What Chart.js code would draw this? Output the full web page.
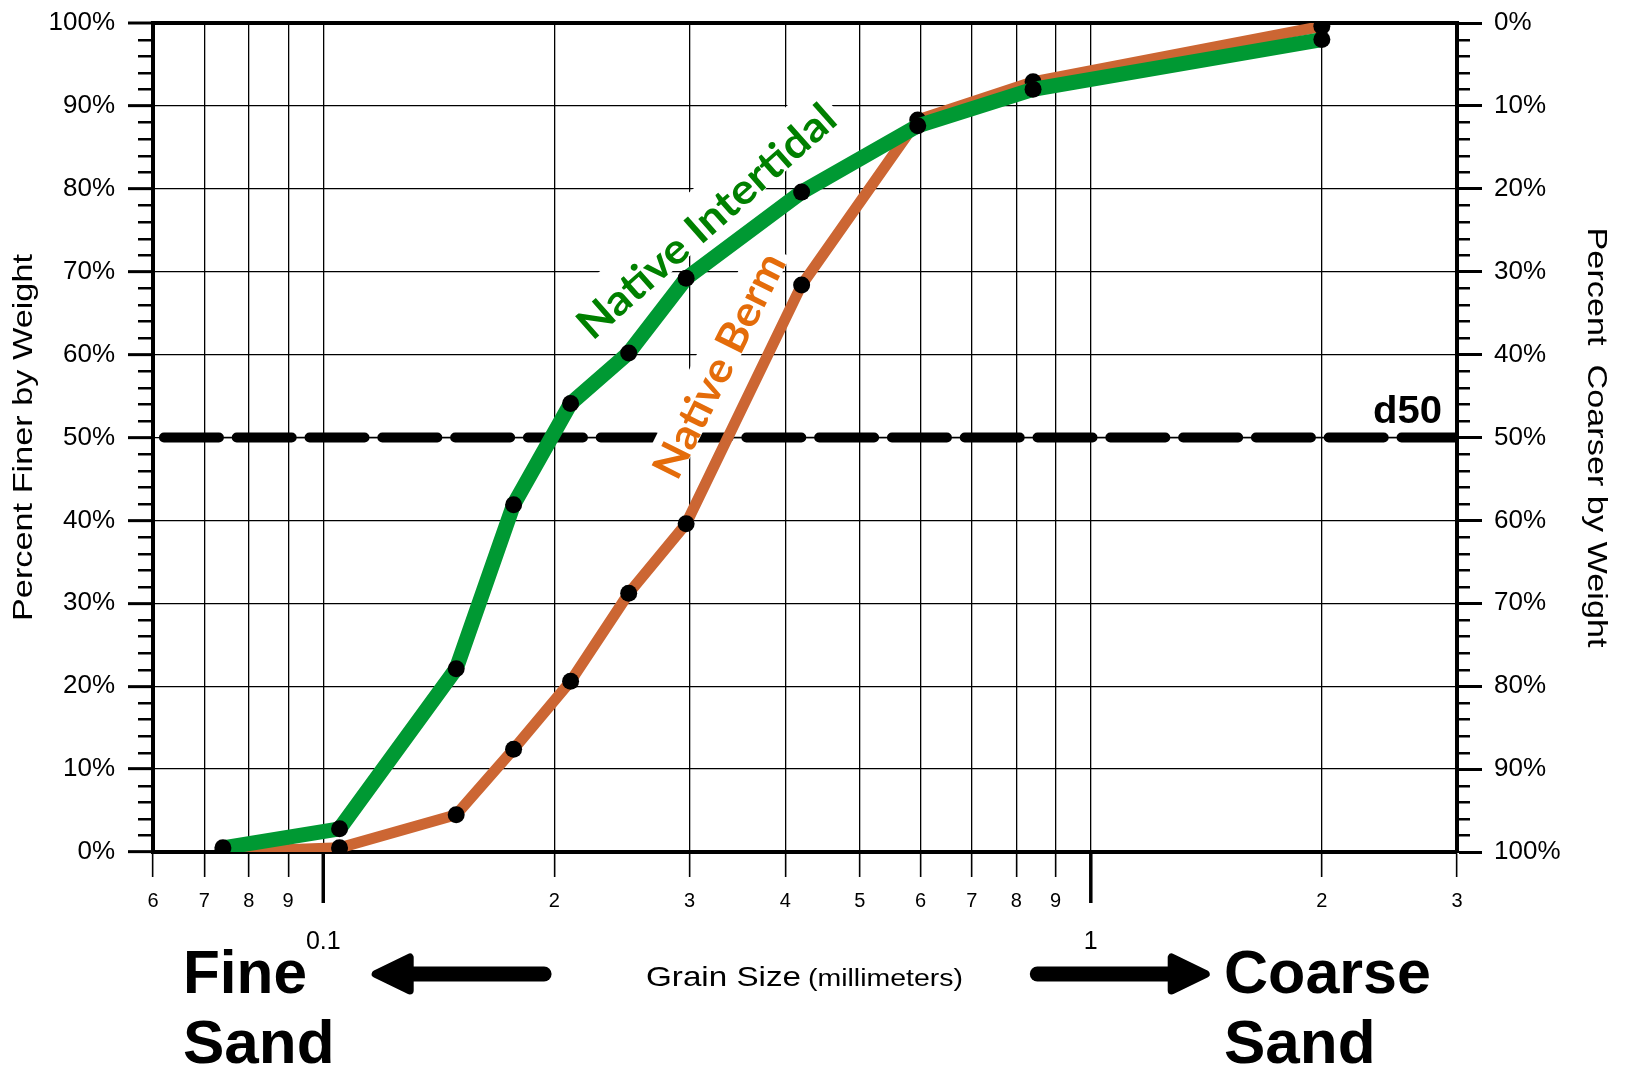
<!DOCTYPE html>
<html><head><meta charset="utf-8">
<script src="https://cdn.jsdelivr.net/npm/chart.js@4.4.0/dist/chart.umd.min.js"></script>
<style>html,body{margin:0;padding:0;background:#fff;overflow:hidden}#wrap{width:1627px;height:1078px}</style>
</head><body><div id="wrap"><canvas id="c" width="1627" height="1078"></canvas></div>
<script>
// ---- data ----
const grainSizes = [0.074, 0.105, 0.149, 0.177, 0.21, 0.25, 0.297, 0.42, 0.595, 0.841, 2.0];
const nativeIntertidal = [0.5, 2.8, 22.1, 41.9, 54.1, 60.2, 69.2, 79.6, 87.6, 92.0, 98.0];
const nativeBerm = [0.0, 0.5, 4.5, 12.4, 20.6, 31.2, 39.6, 68.4, 88.3, 92.9, 99.6];
const d50Value = 50;
const d50Range = [0.062, 3];
const xTicks = [0.06, 0.07, 0.08, 0.09, 0.1, 0.2, 0.3, 0.4, 0.5, 0.6, 0.7, 0.8, 0.9, 1, 2, 3];
const xTickLabels = ['6', '7', '8', '9', '', '2', '3', '4', '5', '6', '7', '8', '9', '', '2', '3'];
const decadeTicks = [0.1, 1];
const decadeLabels = ['0.1', '1'];
const yTicks = [0, 10, 20, 30, 40, 50, 60, 70, 80, 90, 100];
const yMinorTicks = [2,4,6,8,12,14,16,18,22,24,26,28,32,34,36,38,42,44,46,48,52,54,56,58,62,64,66,68,72,74,76,78,82,84,86,88,92,94,96,98];

const SANS = '"Liberation Sans", Arial, sans-serif';
const LBL = 'Lato, "Open Sans", sans-serif';

function fitText(ctx, text, x, y, o) {
  ctx.save();
  ctx.font = (o.weight || 'normal') + ' ' + o.size + 'px ' + (o.family || SANS);
  const w = ctx.measureText(text).width;
  const sx = o.width ? o.width / w : 1;
  ctx.translate(x, y);
  ctx.rotate((o.angle || 0) * Math.PI / 180);
  ctx.scale(sx, 1);
  ctx.textAlign = o.align || 'left';
  ctx.textBaseline = o.baseline || 'alphabetic';
  if (o.box) {
    const px = o.box.padX / sx;
    ctx.fillStyle = '#fff';
    ctx.fillRect(-w / 2 - px, -o.box.above, w + 2 * px, o.box.above + o.box.below);
  }
  ctx.fillStyle = o.color || '#000';
  ctx.fillText(text, 0, 0);
  ctx.restore();
}

function arrow(ctx, tail, tip, y) {
  const d = Math.sign(tip - tail);
  ctx.save();
  ctx.strokeStyle = '#000'; ctx.fillStyle = '#000';
  ctx.lineCap = 'round'; ctx.lineWidth = 15;
  ctx.beginPath(); ctx.moveTo(tail + d * 7.5, y); ctx.lineTo(tip - d * 30, y); ctx.stroke();
  ctx.lineJoin = 'round'; ctx.lineWidth = 8;
  ctx.beginPath();
  ctx.moveTo(tip - d * 4, y);
  ctx.lineTo(tip - d * 38, y - 16.5);
  ctx.lineTo(tip - d * 38, y + 16.5);
  ctx.closePath(); ctx.fill(); ctx.stroke();
  ctx.restore();
}

const decor = {
  id: 'decor',
  beforeDatasetDraw(chart, args) {
    if (args.index !== 1) return;
    const ctx = chart.ctx;
    fitText(ctx, 'Native Intertidal', 707, 222, {size: 42, weight: 'bold', family: LBL, width: 330, angle: -41.5,
      align: 'center', baseline: 'middle', color: '#008000', box: {padX: 6, above: 34, below: 14}});
    fitText(ctx, 'Native Berm', 720, 366, {size: 42, weight: 'bold', family: LBL, width: 246, angle: -63.5,
      align: 'center', baseline: 'middle', color: '#E46C0A', box: {padX: 6, above: 26, below: 14}});
  },
  afterDraw(chart) {
    const ctx = chart.ctx, ca = chart.chartArea;
    const xs = chart.scales.x, ys = chart.scales.y;
    ctx.save();
    ctx.strokeStyle = '#000'; ctx.lineWidth = 2.5;
    yMinorTicks.forEach(v => {
      const py = Math.round(ys.getPixelForValue(v)) + 0.25;
      ctx.beginPath(); ctx.moveTo(ca.left - 15, py); ctx.lineTo(ca.left, py);
      ctx.moveTo(ca.right, py); ctx.lineTo(ca.right + 13, py); ctx.stroke();
    });
    ctx.lineWidth = 3.5;
    decadeTicks.forEach((v, i) => {
      const px = xs.getPixelForValue(v);
      ctx.beginPath(); ctx.moveTo(px, ca.bottom); ctx.lineTo(px, ca.bottom + 51); ctx.stroke();
      fitText(ctx, decadeLabels[i], px, 942, {size: 25, align: 'center', baseline: 'middle'});
    });
    ctx.restore();
    fitText(ctx, 'd50', 1442, 423, {size: 38, weight: 'bold', width: 69, align: 'right'});
    fitText(ctx, 'Percent Finer by Weight', 24, (ca.top + ca.bottom) / 2, {size: 28, width: 367, angle: -90, align: 'center', baseline: 'middle'});
    fitText(ctx, 'Percent  Coarser by Weight', 1596, (ca.top + ca.bottom) / 2, {size: 28, width: 420, angle: 90, align: 'center', baseline: 'middle'});
    fitText(ctx, 'Grain Size', 646, 986, {size: 28, width: 155});
    fitText(ctx, '(millimeters)', 808, 986, {size: 23.5, width: 155});
    fitText(ctx, 'Fine', 183, 993, {size: 62, weight: 'bold', width: 124});
    fitText(ctx, 'Sand', 183, 1063, {size: 62, weight: 'bold'});
    fitText(ctx, 'Coarse', 1224, 993, {size: 62, weight: 'bold', width: 207});
    fitText(ctx, 'Sand', 1224, 1063, {size: 62, weight: 'bold'});
    arrow(ctx, 551.6, 371.7, 974);
    arrow(ctx, 1029.8, 1209.7, 974);
  }
};

const pts = arr => grainSizes.map((g, i) => ({x: g, y: arr[i]}));
const d50Pts = d50Range.map(x => ({x: x, y: d50Value}));
const noPadV = s => { s.paddingTop = 0; s.paddingBottom = 0; };

new Chart(document.getElementById('c'), {
  type: 'line',
  data: {
    datasets: [
      {label: 'Native Intertidal', data: pts(nativeIntertidal), borderColor: '#009933', borderWidth: 15,
        borderJoinStyle: 'miter', pointRadius: 8.5, pointBackgroundColor: '#000', pointBorderWidth: 0, tension: 0},
      {label: 'Native Berm', data: pts(nativeBerm), borderColor: '#CC6633', borderWidth: 11,
        borderJoinStyle: 'miter', pointRadius: 8.5, pointBackgroundColor: '#000', pointBorderWidth: 0, tension: 0},
      {label: 'd50', data: d50Pts, borderColor: '#000', borderWidth: 10, borderDash: [55, 17.8],
        borderCapStyle: 'round', pointRadius: 0, clip: {left: 10, top: 10, bottom: 10, right: 1}},
      {label: 'd50 thin', data: d50Pts, borderColor: '#000', borderWidth: 1.5, pointRadius: 0}
    ]
  },
  options: {
    responsive: false, devicePixelRatio: 1, animation: false,
    layout: {padding: {top: 23, left: 0, right: 0, bottom: 0}},
    plugins: {legend: {display: false}, tooltip: {enabled: false}, title: {display: false}},
    scales: {
      x: {
        type: 'logarithmic', position: 'bottom', min: 0.06, max: 3,
        afterBuildTicks: s => { s.ticks = xTicks.map(v => ({value: v})); },
        afterFit: s => { s.height = 226; s.paddingLeft = 0; s.paddingRight = 0; },
        ticks: {autoSkip: false, maxRotation: 0, minRotation: 0, padding: 12, color: '#000',
          font: {family: SANS, size: 20}, callback: (v, i) => xTickLabels[i]},
        grid: {color: '#000', lineWidth: 1.3, tickLength: 25, tickColor: '#000', tickWidth: 1.6},
        border: {color: '#000', width: 4}
      },
      y: {
        position: 'left', min: 0, max: 100,
        afterBuildTicks: s => { s.ticks = yTicks.map(v => ({value: v})); },
        afterFit: s => { s.width = 153; noPadV(s); },
        ticks: {padding: 13, color: '#000', font: {family: SANS, size: 26}, callback: v => v + '%'},
        grid: {color: '#000', lineWidth: c => (c.tick && c.tick.value === 100 ? 4 : 1.3),
          tickLength: 25, tickColor: '#000', tickWidth: 3},
        border: {color: '#000', width: 4}
      },
      y2: {
        position: 'right', min: 0, max: 100,
        afterBuildTicks: s => { s.ticks = yTicks.map(v => ({value: v})); },
        afterFit: s => { s.width = 170; noPadV(s); },
        ticks: {padding: 12, color: '#000', font: {family: SANS, size: 26}, callback: v => (100 - v) + '%'},
        grid: {drawOnChartArea: false, color: '#000', tickLength: 25, tickColor: '#000', tickWidth: 3},
        border: {color: '#000', width: 4}
      }
    }
  },
  plugins: [decor]
});
</script>
</body></html>
